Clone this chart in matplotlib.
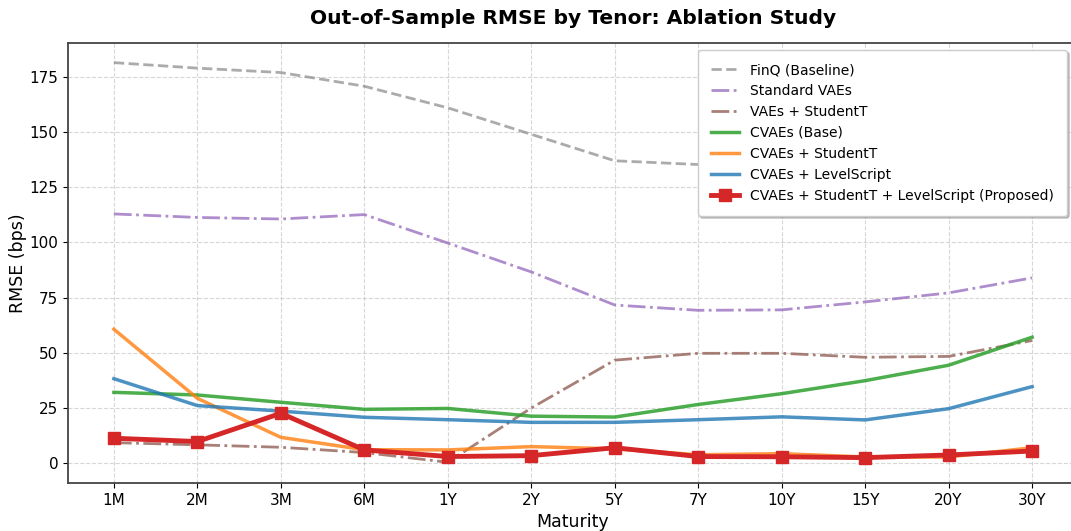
import matplotlib
matplotlib.use("Agg")
import matplotlib.pyplot as plt
import numpy as np

tenors = ["1M", "2M", "3M", "6M", "1Y", "2Y", "5Y", "7Y", "10Y", "15Y", "20Y", "30Y"]

finq = [181.5, 179.0, 177.0, 170.8, 161.0, 149.0, 137.0, 135.3, 134.0, 133.0, 132.5, 134.0]
std_vae = [112.9, 111.3, 110.6, 112.6, 99.7, 86.6, 71.6, 69.2, 69.4, 73.0, 77.1, 83.9]
vae_t = [9.2, 8.2, 7.1, 4.7, 0.3, 24.9, 46.6, 49.7, 49.7, 47.9, 48.3, 55.5]
cvae_base = [32.0, 30.8, 27.5, 24.3, 24.7, 21.2, 20.8, 26.5, 31.4, 37.3, 44.3, 57.0]
cvae_t = [60.6, 29.3, 11.6, 6.0, 5.9, 7.4, 6.4, 3.7, 4.2, 2.7, 2.7, 6.9]
cvae_ls = [38.2, 26.0, 23.5, 20.7, 19.6, 18.4, 18.4, 19.6, 20.9, 19.5, 24.6, 34.6]
proposed = [11.2, 9.7, 22.5, 5.9, 2.9, 3.3, 6.9, 2.9, 2.8, 2.4, 3.6, 5.4]

fig = plt.figure(figsize=(10.71, 5.31), dpi=100)
ax = fig.add_axes([68/1071, 48/531, 1010/1071, 440/531])
x = np.arange(len(tenors))

ax.plot(x, finq, color="#7f7f7f", ls="--", lw=2, alpha=0.65, label="FinQ (Baseline)")
ax.plot(x, std_vae, color="#9467bd", ls="-.", lw=2, alpha=0.75, label="Standard VAEs")
ax.plot(x, vae_t, color="#8c564b", ls="-.", lw=2, alpha=0.75, label="VAEs + StudentT")
ax.plot(x, cvae_base, color="#2ca02c", ls="-", lw=2.5, alpha=0.85, label="CVAEs (Base)")
ax.plot(x, cvae_t, color="#ff7f0e", ls="-", lw=2.5, alpha=0.8, label="CVAEs + StudentT")
ax.plot(x, cvae_ls, color="#1f77b4", ls="-", lw=2.5, alpha=0.8, label="CVAEs + LevelScript")
ax.plot(x, proposed, color="#d62728", ls="-", lw=3.5, marker="s", ms=8,
        label="CVAEs + StudentT + LevelScript (Proposed)")

ax.set_xticks(x)
ax.set_xticklabels(tenors, fontsize=11)
ax.tick_params(axis="y", labelsize=11)
ax.set_xlim(-0.55, 11.55)
ax.set_ylim(-9.1, 190.4)
ax.set_yticks([0, 25, 50, 75, 100, 125, 150, 175])
ax.grid(True, ls="--", alpha=0.5, color="#b0b0b0")
ax.set_xlabel("Maturity", fontsize=12.5)
ax.set_ylabel("RMSE (bps)", fontsize=12.5, labelpad=2)
for s in ax.spines.values():
    s.set_color("#444444")
    s.set_linewidth(1.3)
ax.set_title("Out-of-Sample RMSE by Tenor: Ablation Study", fontsize=14.6,
             fontweight="bold", pad=14)
ax.legend(loc="upper right", bbox_to_anchor=(1 - 4/1010, 1.0), fontsize=10,
          framealpha=1.0, shadow={"ox": 1.5, "oy": -1.5, "alpha": 0.3},
          borderpad=0.95)

fig.savefig("out.png", dpi=100)
